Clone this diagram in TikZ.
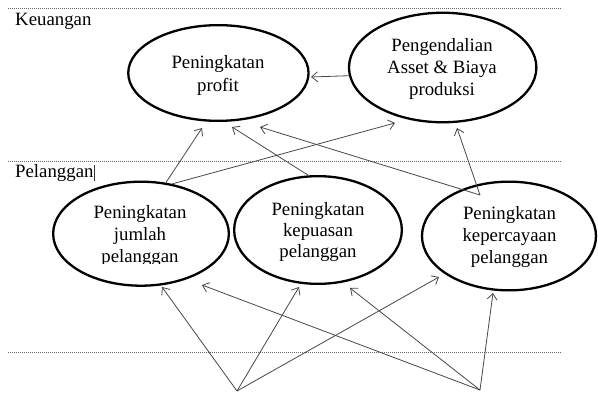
\documentclass[tikz,border=0pt]{standalone}
\usepackage{fontspec}
\setmainfont{Liberation Serif}
\usetikzlibrary{arrows.meta,shapes.geometric}
\begin{document}
\begin{tikzpicture}[x=1pt,y=-1pt,
  ell/.style={draw=black, line width=2.3pt, ellipse, inner sep=0pt},
  txt/.style={align=center, inner sep=0pt, text=black, font=\fontsize{18.8}{#1}\selectfont},
  arr/.style={draw=black!72, line width=0.8pt, -{Straight Barb[length=6pt,width=10pt]}},
  sepline/.style={draw=black!60, line width=0.6pt, dash pattern=on 1pt off 1pt},
  lbl/.style={anchor=base west, inner sep=0pt, font=\fontsize{18.8}{22}\selectfont}]
\useasboundingbox (0,0) rectangle (598,394);

% separators
\coordinate (s1a) at (8,8);   \coordinate (s1b) at (562,8);
\coordinate (s2a) at (8,161); \coordinate (s2b) at (562,161);
\coordinate (s3a) at (8,352); \coordinate (s3b) at (562,352);
\draw[sepline] (s1a) -- (s1b);
\draw[sepline] (s2a) -- (s2b);
\draw[sepline] (s3a) -- (s3b);

% labels
\node[lbl] (keu) at (15,25) {Keuangan};
\node[lbl] (pel) at (15,177) {Pelanggan};
\coordinate (cur1) at (94,164.5); \coordinate (cur2) at (94,181);
\draw[line width=0.6pt, black!80] (cur1) -- (cur2);

% ellipses
\node[ell, minimum width=180.3pt, minimum height=95.7pt] (e1) at (218.4,73) {};
\node[ell, minimum width=187.4pt, minimum height=109.5pt] (e2) at (442.7,67.5) {};
\node[ell, minimum width=175.7pt, minimum height=104pt] (e3) at (141,233.7) {};
\node[ell, minimum width=167.7pt, minimum height=107.7pt] (e4) at (318,230) {};
\node[ell, minimum width=174pt, minimum height=108.7pt] (e5) at (509,236) {};

% texts
\node[txt=23] (t1) at (218,75.2) {Peningkatan\\profit};
\node[txt=22] (t2) at (442,68.7) {Pengendalian\\Asset \& Biaya\\produksi};
\begin{scope}
  \clip (0,0) rectangle (598,263.5);
  \node[txt=22] (t3) at (140,235.7) {Peningkatan\\jumlah\\pelanggan};
\end{scope}
\node[txt=21] (t4) at (318,231.7) {Peningkatan\\kepuasan\\pelanggan};
\node[txt=22] (t5) at (509.5,236.6) {Peningkatan\\kepercayaan\\pelanggan};

% arrow end points
\coordinate (k5) at (480,195);
\coordinate (b1) at (237,391);
\coordinate (b2) at (480,390);
\coordinate (p1) at (311,77);
\coordinate (p2) at (202,128);
\coordinate (p3) at (395,123);
\coordinate (p4) at (232,127);
\coordinate (p5) at (260,127);
\coordinate (p6) at (457,128);
\coordinate (q1) at (162,287);
\coordinate (q2) at (299,287);
\coordinate (q3) at (439,277);
\coordinate (q4) at (202,285);
\coordinate (q5) at (350,288);
\coordinate (q6) at (493,293);

% arrows
\draw[arr] (e2.185) -- (p1);
\draw[arr] (e3.64) -- (p2);
\draw[arr] (e3.58) -- (p3);
\draw[arr] (e4.100) -- (p4);
\draw[arr] (k5) -- (p5);
\draw[arr] (k5) -- (p6);
\draw[arr] (b1) -- (q1);
\draw[arr] (b1) -- (q2);
\draw[arr] (b1) -- (q3);
\draw[arr] (b2) -- (q4);
\draw[arr] (b2) -- (q5);
\draw[arr] (b2) -- (q6);
\end{tikzpicture}
\end{document}
